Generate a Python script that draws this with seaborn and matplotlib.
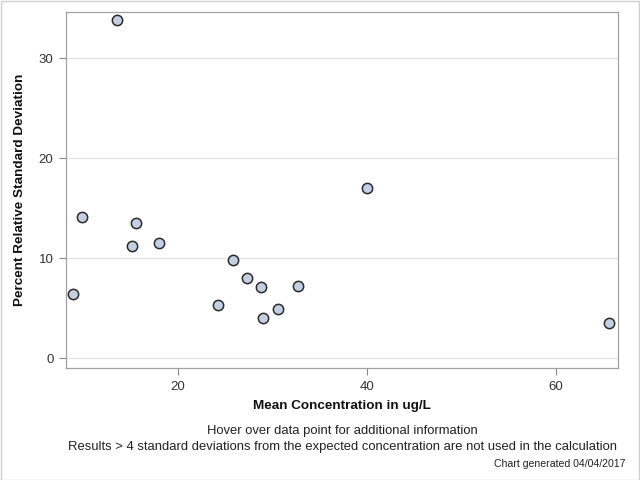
import numpy as np
import pandas as pd
import seaborn as sns
import matplotlib.pyplot as plt

# Mean concentration (ug/L) and percent relative standard deviation
mean_conc = [9.0, 9.95, 13.65, 15.2, 15.6, 18.0, 24.3, 25.9, 27.3, 28.8, 29.0, 30.6, 32.7, 40.0, 65.6]
pct_rsd = [6.4, 14.1, 33.8, 11.2, 13.5, 11.5, 5.3, 9.8, 8.0, 7.1, 4.0, 4.9, 7.2, 17.0, 3.5]

x_ticks = [20, 40, 60]
y_ticks = [0, 10, 20, 30]

df = pd.DataFrame({"conc": mean_conc, "rsd": pct_rsd})

sns.set_style("white")
plt.rcParams['font.family'] = ['Liberation Sans', 'DejaVu Sans']

fig = plt.figure(figsize=(6.4, 4.8), dpi=100)
ax = fig.add_axes([0.103, 0.233, 0.863, 0.742])

sns.scatterplot(data=df, x="conc", y="rsd", ax=ax, s=55,
                color="#c3d0e3", edgecolor="#2a2a2a", linewidth=1.1, zorder=3)

ax.set_xlim(8.2, 66.6)
ax.set_ylim(-1, 34.6)
ax.set_xticks(x_ticks)
ax.set_yticks(y_ticks)
ax.yaxis.grid(True, color="#e3e3e3", linewidth=0.9)
ax.set_axisbelow(True)
for sp in ax.spines.values():
    sp.set_color("#a0a0a0")
    sp.set_linewidth(0.9)
ax.tick_params(axis="both", bottom=True, left=True, length=5, width=0.8, color="#888888",
               labelsize=9.5, labelcolor="#333333", pad=4)

ax.set_xlabel("Mean Concentration in ug/L", fontsize=9.7, fontweight="bold", labelpad=5, color="#111111")
ax.set_ylabel("Percent Relative Standard Deviation", fontsize=9.7, fontweight="bold", labelpad=9, color="#111111")

fig.text(0.535, 0.095, "Hover over data point for additional information",
         ha="center", fontsize=9.4, color="#222222")
fig.text(0.535, 0.062, "Results > 4 standard deviations from the expected concentration are not used in the calculation",
         ha="center", fontsize=9.4, color="#222222")
fig.text(0.977, 0.027, "Chart generated 04/04/2017", ha="right", fontsize=7.6, color="#222222")

fig.patches.append(plt.Rectangle((0.001, 0.001), 0.997, 0.997, transform=fig.transFigure,
                                 fill=False, edgecolor="#d0d0d0", linewidth=1))

fig.savefig("out.png", dpi=100)
